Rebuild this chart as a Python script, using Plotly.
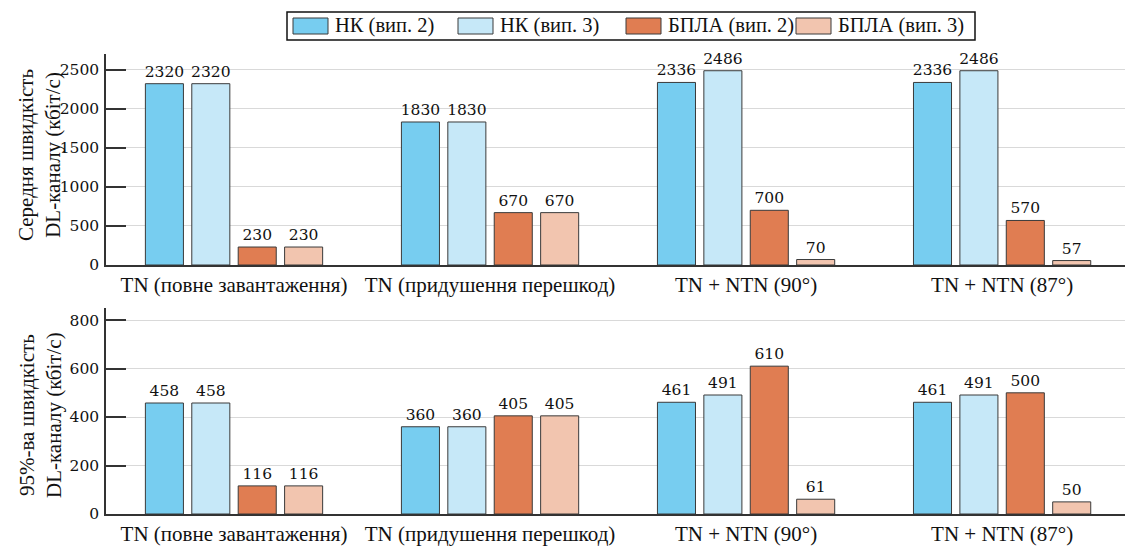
import plotly.graph_objects as go

W, H = 1125, 547

categories = ["TN (повне завантаження)", "TN (придушення перешкод)",
              "TN + NTN (90°)", "TN + NTN (87°)"]
series_names = ["НК (вип. 2)", "НК (вип. 3)", "БПЛА (вип. 2)", "БПЛА (вип. 3)"]
series_colors = ["#77CDF0", "#C6E8F8", "#E07D52", "#F2C5AF"]

# Mean DL rate, kbit/s
mean_nk2 = [2320, 1830, 2336, 2336]
mean_nk3 = [2320, 1830, 2486, 2486]
mean_uav2 = [230, 670, 700, 570]
mean_uav3 = [230, 670, 70, 57]

# 95%-ile DL rate, kbit/s
p95_nk2 = [458, 360, 461, 461]
p95_nk3 = [458, 360, 491, 491]
p95_uav2 = [116, 405, 610, 500]
p95_uav3 = [116, 405, 61, 50]

top_ticks = [0, 500, 1000, 1500, 2000, 2500]
bottom_ticks = [0, 200, 400, 600, 800]

TEXT_FONT = "Liberation Serif"
NUM_FONT = "DejaVu Serif"


def px_y(p):
    return 1 - p / H


fig = go.Figure()

for panel, data in (("", [mean_nk2, mean_nk3, mean_uav2, mean_uav3]),
                    ("2", [p95_nk2, p95_nk3, p95_uav2, p95_uav3])):
    for name, color, vals in zip(series_names, series_colors, data):
        fig.add_trace(go.Bar(
            x=categories, y=vals, name=name,
            marker=dict(color=color, line=dict(color="#3a3a3a", width=1)),
            text=[str(v) for v in vals], textposition="outside",
            textangle=0, constraintext="none", cliponaxis=False,
            textfont=dict(family=NUM_FONT, size=15.5, color="#111"),
            xaxis="x" + panel, yaxis="y" + panel, showlegend=False,
        ))

xdom = [106 / W, 1.0]
axis_common = dict(
    type="category", range=[-0.5, 3.48], showgrid=False, automargin=False,
    showline=True, linecolor="#333", linewidth=1.5,
    ticks="", ticklabelstandoff=0,
    tickfont=dict(family=TEXT_FONT, size=21, color="#111"),
)
yaxis_common = dict(
    showline=True, linecolor="#333", linewidth=1.5, automargin=False,
    ticks="inside", ticklen=20, tickwidth=1.5, tickcolor="#333",
    showgrid=True, gridcolor="#d9d9d9", gridwidth=1.2,
    zeroline=False, ticklabelstandoff=2,
    tickfont=dict(family=NUM_FONT, size=15.5, color="#111"),
)

fig.update_layout(
    width=W, height=H,
    margin=dict(l=0, r=0, t=0, b=0),
    paper_bgcolor="white", plot_bgcolor="white",
    barmode="group", bargap=0.275, bargroupgap=0.18,
    font=dict(family=TEXT_FONT, color="#111"),
    xaxis=dict(domain=xdom, anchor="y", **axis_common),
    xaxis2=dict(domain=xdom, anchor="y2", **axis_common),
    yaxis=dict(domain=[px_y(265), px_y(54)], range=[0, 2700],
               tickvals=top_ticks, anchor="x", **yaxis_common),
    yaxis2=dict(domain=[px_y(514), px_y(308)], range=[0, 850],
                tickvals=bottom_ticks, anchor="x2", **yaxis_common),
)

# Axis titles
for text, yc in (("Середня швидкість<br>DL-каналу (кбіт/с)", 155),
                 ("95%-ва швидкість<br>DL-каналу (кбіт/с)", 415)):
    fig.add_annotation(text=text, xref="paper", yref="paper",
                       x=40 / W, y=px_y(yc), xanchor="center",
                       yanchor="middle", textangle=-90, showarrow=False,
                       font=dict(family=TEXT_FONT, size=21, color="#111"))

# Legend: framed row of swatches with labels
box_x0, box_x1, box_y0, box_y1 = 287, 975, 12, 40
fig.add_shape(type="rect", xref="paper", yref="paper",
              x0=box_x0 / W, x1=box_x1 / W, y0=px_y(box_y1), y1=px_y(box_y0),
              line=dict(color="#111", width=1.5), fillcolor="white")
swatch_starts = [293, 458, 626, 796]
sw_w = 35
for name, color, sx in zip(series_names, series_colors, swatch_starts):
    fig.add_shape(type="rect", xref="paper", yref="paper",
                  x0=sx / W, x1=(sx + sw_w) / W, y0=px_y(34), y1=px_y(18),
                  line=dict(color="#3a3a3a", width=1), fillcolor=color)
    fig.add_annotation(text=name, xref="paper", yref="paper",
                       x=(sx + sw_w + 5) / W, y=px_y(26), xanchor="left",
                       yanchor="middle", showarrow=False,
                       font=dict(family=TEXT_FONT, size=20.5, color="#111"))

fig.write_html("out.html")
